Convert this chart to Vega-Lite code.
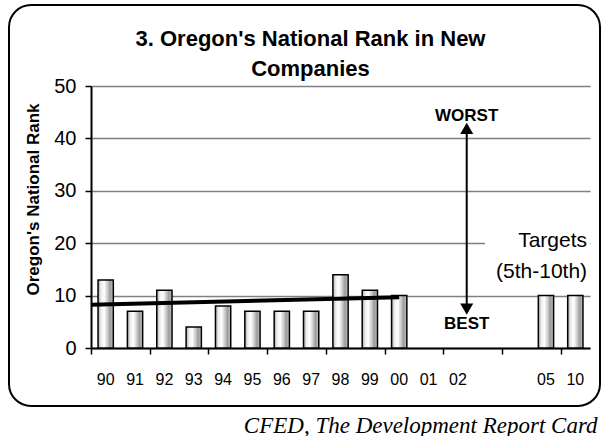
{
  "$schema": "https://vega.github.io/schema/vega-lite/v6.json",
  "width": 591,
  "height": 401,
  "autosize": "none",
  "padding": {"left": 9, "top": 5, "right": 2, "bottom": 30},
  "background": "white",
  "config": {
    "view": {"stroke": "black", "strokeWidth": 2, "cornerRadius": 22},
    "font": "Liberation Sans"
  },
  "title": {
    "text": ["3. Oregon's National Rank in New", "Companies"],
    "font": "Liberation Sans",
    "fontSize": 22,
    "fontWeight": "bold",
    "color": "black",
    "anchor": "middle",
    "frame": "group",
    "baseline": "top",
    "lineHeight": 30,
    "offset": -76,
    "dx": 6
  },
  "layer": [
    {
      "data": {
        "values": [
          {"year": "90", "rank": 13},
          {"year": "91", "rank": 7},
          {"year": "92", "rank": 11},
          {"year": "93", "rank": 4},
          {"year": "94", "rank": 8},
          {"year": "95", "rank": 7},
          {"year": "96", "rank": 7},
          {"year": "97", "rank": 7},
          {"year": "98", "rank": 14},
          {"year": "99", "rank": 11},
          {"year": "00", "rank": 10},
          {"year": "05", "rank": 10},
          {"year": "10", "rank": 10}
        ]
      },
      "mark": {
        "type": "bar",
        "fill": {
          "gradient": "linear",
          "x1": 0, "x2": 1, "y1": 0, "y2": 0,
          "stops": [
            {"offset": 0, "color": "#a8a8a8"},
            {"offset": 0.2, "color": "#eeeeee"},
            {"offset": 0.4, "color": "#ffffff"},
            {"offset": 0.6, "color": "#d0d0d0"},
            {"offset": 0.8, "color": "#9a9a9a"},
            {"offset": 1, "color": "#cccccc"}
          ]
        },
        "stroke": "black",
        "strokeWidth": 1.5
      },
      "encoding": {
        "x": {
          "field": "year",
          "type": "ordinal",
          "sort": null,
          "scale": {
            "domain": ["90", "91", "92", "93", "94", "95", "96", "97", "98", "99", "00", "01", "02", " ", "  ", "05", "10"],
            "range": [82, 581],
            "paddingInner": 0.48,
            "paddingOuter": 0.24
          },
          "axis": {
            "orient": "bottom",
            "offset": -58,
            "ticks": false,
            "domain": false,
            "grid": false,
            "labelAngle": 0,
            "labelFontSize": 16,
            "labelColor": "black",
            "labelPadding": 31,
            "labelBaseline": "middle",
            "title": null
          }
        },
        "y": {
          "field": "rank",
          "type": "quantitative",
          "scale": {"domain": [0, 50], "range": [343, 81], "nice": false},
          "axis": {
            "orient": "left",
            "offset": -82,
            "values": [0, 10, 20, 30, 40, 50],
            "grid": true,
            "gridColor": "#808080",
            "gridWidth": 1.5,
            "domainColor": "black",
            "domainWidth": 2,
            "tickColor": "black",
            "tickWidth": 1.5,
            "tickSize": 6,
            "labelFontSize": 20,
            "labelColor": "black",
            "labelPadding": 9,
            "title": "Oregon's National Rank",
            "titleFontSize": 17,
            "titleFontWeight": "bold",
            "titleColor": "black",
            "titlePadding": 11,
            "titleY": 194
          }
        }
      }
    },
    {
      "layer": [
        {
          "data": {"values": [{"t": -0.5, "rank": 8.25}, {"t": 10, "rank": 9.68}]},
          "mark": {"type": "line", "color": "black", "strokeWidth": 4},
          "encoding": {
            "x": {
              "field": "t",
              "type": "quantitative",
              "scale": {"domain": [-0.5, 16.5], "range": [82, 581], "nice": false, "zero": false},
              "axis": {
                "orient": "bottom",
                "offset": -58,
                "values": [-0.5, 0.5, 1.5, 2.5, 3.5, 4.5, 5.5, 6.5, 7.5, 8.5, 9.5, 10.5, 11.5, 12.5, 13.5, 14.5, 15.5, 16.5],
                "labels": false,
                "grid": false,
                "tickColor": "black",
                "tickWidth": 1.5,
                "tickSize": 6,
                "domainColor": "black",
                "domainWidth": 2,
                "title": "CFED, The Development Report Card",
                "titleFont": "Liberation Serif",
                "titleFontStyle": "italic",
                "titleFontWeight": "normal",
                "titleFontSize": 23,
                "titleColor": "black",
                "titleAnchor": "end",
                "titleAlign": "right",
                "titleBaseline": "middle",
                "titleX": 588,
                "titleY": 77
              }
            },
            "y": {"field": "rank", "type": "quantitative"}
          }
        },
        {
          "data": {"values": [{"t": 12.92, "t2": 16.5, "rank": 17.2, "rank2": 23.6}]},
          "mark": {"type": "rect", "fill": "white", "stroke": null},
          "encoding": {
            "x": {"field": "t", "type": "quantitative"},
            "x2": {"field": "t2"},
            "y": {"field": "rank", "type": "quantitative"},
            "y2": {"field": "rank2"}
          }
        },
        {
          "data": {"values": [{"t": 12.3, "rank": 7.4, "rank2": 41.9}]},
          "mark": {"type": "rule", "color": "black", "strokeWidth": 2},
          "encoding": {
            "x": {"field": "t", "type": "quantitative"},
            "y": {"field": "rank", "type": "quantitative"},
            "y2": {"field": "rank2"}
          }
        },
        {
          "data": {"values": [{"t": 12.3, "rank": 41.9, "dir": "up"}, {"t": 12.3, "rank": 7.4, "dir": "down"}]},
          "mark": {"type": "point", "filled": true, "color": "black", "opacity": 1, "size": 170},
          "encoding": {
            "x": {"field": "t", "type": "quantitative"},
            "y": {"field": "rank", "type": "quantitative"},
            "shape": {
              "field": "dir",
              "type": "nominal",
              "scale": {"domain": ["up", "down"], "range": ["triangle-up", "triangle-down"]},
              "legend": null
            }
          }
        },
        {
          "data": {"values": [{"t": 12.3, "rank": 44.3, "label": "WORST"}, {"t": 12.3, "rank": 4.6, "label": "BEST"}]},
          "mark": {"type": "text", "font": "Liberation Sans", "fontWeight": "bold", "fontSize": 17, "color": "black", "align": "center", "baseline": "middle"},
          "encoding": {
            "x": {"field": "t", "type": "quantitative"},
            "y": {"field": "rank", "type": "quantitative"},
            "text": {"field": "label"}
          }
        },
        {
          "data": {"values": [{"t": 16.4, "rank": 20.4, "label": "Targets"}, {"t": 16.4, "rank": 14.5, "label": "(5th-10th)"}]},
          "mark": {"type": "text", "font": "Liberation Sans", "fontSize": 21, "color": "black", "align": "right", "baseline": "middle"},
          "encoding": {
            "x": {"field": "t", "type": "quantitative"},
            "y": {"field": "rank", "type": "quantitative"},
            "text": {"field": "label"}
          }
        }
      ]
    }
  ],
  "resolve": {"scale": {"x": "independent"}, "axis": {"x": "independent"}}
}
